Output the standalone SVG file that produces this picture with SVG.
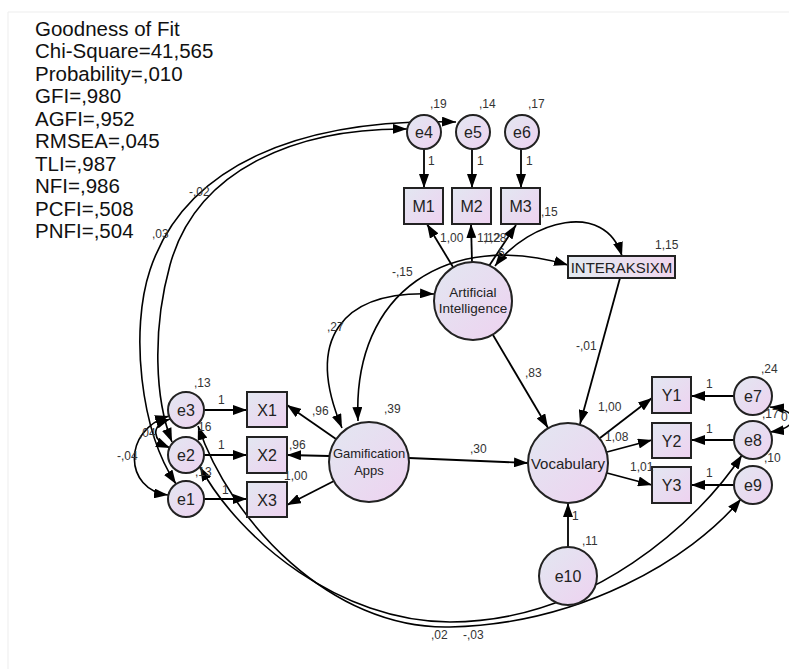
<svg xmlns="http://www.w3.org/2000/svg" width="789" height="669" viewBox="0 0 789 669">
<defs>
<linearGradient id="g" x1="0" y1="0" x2="1" y2="1">
<stop offset="0" stop-color="#e2e7f1"/>
<stop offset="1" stop-color="#eed2f0"/>
</linearGradient>
<linearGradient id="gh" x1="0" y1="0" x2="1" y2="0">
<stop offset="0" stop-color="#e3eaf0"/>
<stop offset="1" stop-color="#f0d6ee"/>
</linearGradient>
<marker id="ah" viewBox="0 0 14 10" refX="14" refY="5" markerWidth="14" markerHeight="10" orient="auto-start-reverse" markerUnits="userSpaceOnUse">
<path d="M0,0 L14,5 L0,10 z" fill="#000"/>
</marker>
<style>
.n{fill:url(#g);stroke:#222;stroke-width:2}
.nt{font-family:"Liberation Sans",Arial,sans-serif;font-size:16px;fill:#222;text-anchor:middle}
.ns{font-family:"Liberation Sans",Arial,sans-serif;font-size:13.5px;fill:#222;text-anchor:middle}
.c{fill:none;stroke:#000;stroke-width:1.8;marker-end:url(#ah)}
.d{fill:none;stroke:#000;stroke-width:1.6;marker-start:url(#ah);marker-end:url(#ah)}
.l{font-family:"Liberation Sans",Arial,sans-serif;font-size:12px;fill:#333}
.h{font-family:"Liberation Sans",Arial,sans-serif;font-size:20.5px;fill:#111}
</style>
</defs>
<rect width="789" height="669" fill="#fff"/>
<path d="M8,669 V12 H789" fill="none" stroke="#ededed" stroke-width="1"/>

<g id="fit">
<text class="h" x="35" y="36">Goodness of Fit</text>
<text class="h" x="35" y="58">Chi-Square=41,565</text>
<text class="h" x="35" y="81">Probability=,010</text>
<text class="h" x="35" y="103">GFI=,980</text>
<text class="h" x="35" y="126">AGFI=,952</text>
<text class="h" x="35" y="148">RMSEA=,045</text>
<text class="h" x="35" y="171">TLI=,987</text>
<text class="h" x="35" y="193">NFI=,986</text>
<text class="h" x="35" y="216">PCFI=,508</text>
<text class="h" x="35" y="238">PNFI=,504</text>
</g>

<g id="connectors">
<line class="c" x1="424" y1="149" x2="424" y2="188"/>
<line class="c" x1="472" y1="149" x2="472" y2="188"/>
<line class="c" x1="521" y1="149" x2="521" y2="188"/>
<line class="c" x1="453" y1="267" x2="427" y2="224"/>
<line class="c" x1="472" y1="262" x2="471" y2="224"/>
<line class="c" x1="489" y1="266" x2="516" y2="225"/>
<path class="d" d="M495,266 C530,220 605,200 622,256"/>
<path class="d" d="M358,421 C352,290 450,230 568,265"/>
<path class="d" d="M342,428 C305,340 340,290 434,294"/>
<line class="c" x1="493" y1="335" x2="548" y2="428"/>
<line class="c" x1="620" y1="278" x2="580" y2="424"/>
<line class="c" x1="409" y1="458" x2="528" y2="463"/>
<line class="c" x1="568" y1="547" x2="568" y2="503"/>
<line class="c" x1="336" y1="439" x2="287" y2="405"/>
<line class="c" x1="329" y1="456" x2="287" y2="455"/>
<line class="c" x1="334" y1="481" x2="287" y2="505"/>
<line class="c" x1="204" y1="410" x2="247" y2="410"/>
<line class="c" x1="204" y1="455" x2="247" y2="455"/>
<line class="c" x1="204" y1="499" x2="247" y2="499"/>
<line class="c" x1="600" y1="438" x2="652" y2="398"/>
<line class="c" x1="607" y1="452" x2="652" y2="440"/>
<line class="c" x1="607" y1="473" x2="652" y2="485"/>
<line class="c" x1="734" y1="396" x2="691" y2="396"/>
<line class="c" x1="734" y1="440" x2="691" y2="440"/>
<line class="c" x1="734" y1="485" x2="691" y2="485"/>
<path class="d" d="M770,407 C800,410 800,428 770,432"/>
<path class="d" d="M169,416 C122,430 124,490 168,495"/>
<path class="d" d="M170,419 C150,426 152,440 170,448"/>
<path class="d" d="M176,484 C140,430 130,330 150,270 C185,165 300,118 456,122"/>
<path class="d" d="M172,442 C155,400 152,330 170,265 C197,167 300,128 407,129"/>
<path class="d" d="M198,426 C230,520 330,630 450,627 C580,624 690,560 741,499"/>
<path class="d" d="M200,467 C240,540 340,622 450,622 C590,622 700,520 742,455"/>
</g>

<g id="e4"><circle class="n" cx="424" cy="132" r="17"/><text class="nt" x="424" y="138">e4</text></g>
<g id="e5"><circle class="n" cx="473" cy="132" r="17"/><text class="nt" x="473" y="138">e5</text></g>
<g id="e6"><circle class="n" cx="522" cy="132" r="17"/><text class="nt" x="522" y="138">e6</text></g>
<g id="M1"><rect class="n" x="404" y="188" width="39" height="36"/><text class="nt" x="423.5" y="212">M1</text></g>
<g id="M2"><rect class="n" x="452" y="188" width="39" height="36"/><text class="nt" x="471.5" y="212">M2</text></g>
<g id="M3"><rect class="n" x="501" y="188" width="39" height="36"/><text class="nt" x="520.5" y="212">M3</text></g>
<g id="INTERAKSIXM"><rect x="568" y="256" width="107" height="22" fill="url(#gh)" stroke="#222" stroke-width="2"/><text class="nt" x="621.5" y="273" style="font-size:15px">INTERAKSIXM</text></g>
<g id="AI"><circle class="n" cx="473" cy="301" r="39"/><text class="ns" x="473" y="297">Artificial</text><text class="ns" x="473" y="313">Intelligence</text></g>
<g id="GA"><circle class="n" cx="369" cy="462" r="40"/><text class="ns" x="369" y="458" style="font-size:13px">Gamification</text><text class="ns" x="369" y="475" style="font-size:13px">Apps</text></g>
<g id="Vocabulary"><circle class="n" cx="568" cy="463" r="40"/><text class="ns" x="568" y="469" style="font-size:15px">Vocabulary</text></g>
<g id="e10"><circle class="n" cx="568" cy="576" r="29"/><text class="nt" x="568" y="582">e10</text></g>
<g id="X1"><rect class="n" x="247" y="392" width="40" height="35"/><text class="nt" x="267" y="416">X1</text></g>
<g id="X2"><rect class="n" x="247" y="437" width="40" height="36"/><text class="nt" x="267" y="461">X2</text></g>
<g id="X3"><rect class="n" x="247" y="482" width="40" height="35"/><text class="nt" x="267" y="506">X3</text></g>
<g id="e3"><circle class="n" cx="186" cy="410" r="18"/><text class="nt" x="186" y="416">e3</text></g>
<g id="e2"><circle class="n" cx="186" cy="455" r="18"/><text class="nt" x="186" y="461">e2</text></g>
<g id="e1"><circle class="n" cx="186" cy="499" r="18"/><text class="nt" x="186" y="505">e1</text></g>
<g id="Y1"><rect class="n" x="652" y="377" width="39" height="36"/><text class="nt" x="671.5" y="401">Y1</text></g>
<g id="Y2"><rect class="n" x="652" y="423" width="39" height="35"/><text class="nt" x="671.5" y="447">Y2</text></g>
<g id="Y3"><rect class="n" x="652" y="467" width="39" height="36"/><text class="nt" x="671.5" y="491">Y3</text></g>
<g id="e7"><circle class="n" cx="753" cy="396" r="19"/><text class="nt" x="753" y="402">e7</text></g>
<g id="e8"><circle class="n" cx="753" cy="440" r="19"/><text class="nt" x="753" y="446">e8</text></g>
<g id="e9"><circle class="n" cx="753" cy="485" r="19"/><text class="nt" x="753" y="491">e9</text></g>

<g id="labels">
<text class="l" x="430" y="108">,19</text>
<text class="l" x="479" y="108">,14</text>
<text class="l" x="528" y="108">,17</text>
<text class="l" x="428" y="165">1</text>
<text class="l" x="477" y="165" fill="#6b2020">1</text>
<text class="l" x="526" y="165" fill="#1f5a9a">1</text>
<text class="l" x="541" y="216">,15</text>
<text class="l" x="655" y="249">1,15</text>
<text class="l" x="440" y="242" fill="#5a2333">1,00</text>
<text class="l" x="477" y="242" fill="#5a2333">1,12</text>
<text class="l" x="483" y="242" fill="#3a3a50">1,28</text>
<text class="l" x="498" y="257" fill="#1f3a8a">6</text>
<text class="l" x="392" y="276">-,15</text>
<text class="l" x="327" y="331">,27</text>
<text class="l" x="525" y="377">,83</text>
<text class="l" x="576" y="350">-,01</text>
<text class="l" x="384" y="413">,39</text>
<text class="l" x="470" y="453">,30</text>
<text class="l" x="312" y="415">,96</text>
<text class="l" x="289" y="449">,96</text>
<text class="l" x="284" y="480">1,00</text>
<text class="l" x="218" y="404" fill="#5a2020">1</text>
<text class="l" x="218" y="449" fill="#5a2020">1</text>
<text class="l" x="222" y="494">1</text>
<text class="l" x="194" y="387" fill="#6b2a20">,13</text>
<text class="l" x="198" y="431" fill="#6b2a20">16</text>
<text class="l" x="195" y="476" fill="#6b2a20">,13</text>
<text class="l" x="117" y="460">-,04</text>
<text class="l" x="139" y="437">,04</text>
<text class="l" x="189" y="196">-,02</text>
<text class="l" x="152" y="238">,03</text>
<text class="l" x="431" y="639">,02</text>
<text class="l" x="463" y="639">-,03</text>
<text class="l" x="761" y="373">,24</text>
<text class="l" x="762" y="418">,17</text>
<text class="l" x="781" y="421">0</text>
<text class="l" x="764" y="462">,10</text>
<text class="l" x="598" y="411" fill="#5a2020">1,00</text>
<text class="l" x="605" y="441" fill="#5a2020">1,08</text>
<text class="l" x="630" y="471" fill="#5a2020">1,01</text>
<text class="l" x="706" y="388">1</text>
<text class="l" x="706" y="433">1</text>
<text class="l" x="706" y="477">1</text>
<text class="l" x="582" y="545">,11</text>
<text class="l" x="572" y="520" fill="#1f3a9a">1</text>
</g>
</svg>
